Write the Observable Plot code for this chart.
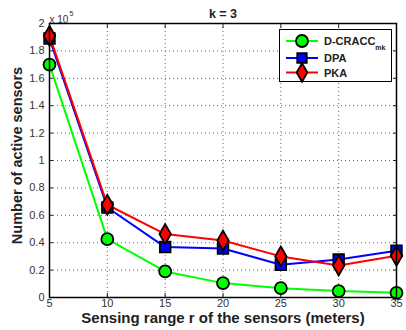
<!DOCTYPE html>
<html><head><meta charset="utf-8">
<script src="https://cdn.jsdelivr.net/npm/d3@7"></script>
<script src="https://cdn.jsdelivr.net/npm/@observablehq/plot@0.6"></script>
<style>
body{margin:0;background:#fff;font-family:"Liberation Sans",Arial,sans-serif;}
#wrap{position:relative;width:406px;height:330px;}
#legend{position:absolute;left:279px;top:29px;width:113px;height:53px;border:1.3px solid #000;background:#fff;box-sizing:border-box;}
#legend svg{overflow:visible;}
</style></head><body>
<div id="wrap"><div id="chart"></div><div id="legend"></div></div>
<script>
const ranges = [5, 10, 15, 20, 25, 30, 35];
const seriesNames = ["D-CRACC", "DPA", "PKA"];
const dcracc = [1.70, 0.426, 0.19, 0.105, 0.068, 0.047, 0.034];
const dpa = [1.89, 0.657, 0.368, 0.358, 0.239, 0.277, 0.341];
const pka = [1.91, 0.677, 0.463, 0.416, 0.30, 0.234, 0.304];
const colors = ["#00ff00", "#0000ff", "#ff0000"];
const symbols = ["circle", "square", "diamond"];
const xTicks = [5, 10, 15, 20, 25, 30, 35];
const yTicks = [0, 0.2, 0.4, 0.6, 0.8, 1, 1.2, 1.4, 1.6, 1.8, 2];

const values = [dcracc, dpa, pka];
const data = [];
values.forEach((vals, i) => vals.forEach((v, j) => data.push({series: seriesNames[i], x: ranges[j], y: v})));

const colorScale = {domain: seriesNames, range: colors};
const symbolScale = {domain: seriesNames, range: symbols};

const chart = Plot.plot({
  width: 406, height: 330,
  marginLeft: 49, marginRight: 10, marginTop: 23, marginBottom: 33,
  style: {fontFamily: "Liberation Sans, Arial, sans-serif", background: "#fff", color: "#222"},
  x: {domain: [5, 35], ticks: xTicks, label: null},
  y: {domain: [0, 2], ticks: yTicks, label: null},
  color: colorScale,
  symbol: symbolScale,
  marks: [
    Plot.gridX(xTicks, {stroke: "#555", strokeOpacity: 0.9, strokeDasharray: "1,3", strokeWidth: 1}),
    Plot.gridY(yTicks, {stroke: "#555", strokeOpacity: 0.9, strokeDasharray: "1,3", strokeWidth: 1}),
    Plot.axisX(xTicks, {tickSize: -4, tickPadding: 6, fontSize: 11, fill: "#333", tickFormat: d => d}),
    Plot.axisX(xTicks, {anchor: "top", tickSize: -4, tickFormat: () => "", label: null}),
    Plot.axisY(yTicks, {tickSize: -4, tickPadding: 9, fontSize: 11, fill: "#333", tickFormat: d => String(d)}),
    Plot.axisY(yTicks, {anchor: "right", tickSize: -4, tickFormat: () => "", label: null}),
    Plot.line(data, {x: "x", y: "y", z: "series", stroke: "series", strokeWidth: 2}),
    Plot.dot(data, {x: "x", y: "y", symbol: "series", fill: "series", stroke: "#000", strokeWidth: 1.8, r: 6}),
    Plot.frame({stroke: "#000", strokeWidth: 1.5}),
    Plot.text(["k = 3"], {frameAnchor: "top", dy: -14, fontWeight: "bold", fontSize: 12.5, fill: "#222"}),
    Plot.text(["Sensing range r of the sensors (meters)"], {frameAnchor: "bottom", dy: 25, fontWeight: "bold", fontSize: 15, fill: "#222"}),
    Plot.text(["Number of active sensors"], {frameAnchor: "left", dx: -32, dy: -5, rotate: -90, textAnchor: "middle", fontWeight: "bold", fontSize: 14.5, fill: "#222"}),
    Plot.text(["x 10"], {frameAnchor: "top-left", dy: -8, dx: 0, textAnchor: "start", fontSize: 10, fill: "#333"}),
    Plot.text(["5"], {frameAnchor: "top-left", dy: -12, dx: 20, textAnchor: "start", fontSize: 7, fill: "#333"})
  ]
});
document.getElementById("chart").appendChild(chart);

// legend
const leg = d3.select("#legend").append("svg").attr("width", 110).attr("height", 50)
  .style("font-family", "Liberation Sans, Arial, sans-serif");
const rowY = [11, 28, 42.5];
seriesNames.forEach((name, i) => {
  const g = leg.append("g").attr("transform", `translate(0,${rowY[i]})`);
  g.append("line").attr("x1", 6).attr("x2", 38).attr("stroke", colors[i]).attr("stroke-width", 2);
  g.append("path").attr("transform", "translate(22,0)")
    .attr("d", d3.symbol(i === 0 ? d3.symbolCircle : i === 1 ? d3.symbolSquare : d3.symbolDiamond, i === 0 ? 113 : i === 1 ? 90 : 100)())
    .attr("fill", colors[i]).attr("stroke", "#000").attr("stroke-width", 1.8);
  const t = g.append("text").attr("x", 44).attr("y", 4).attr("font-size", 11).attr("font-weight", "bold").attr("fill", "#222").text(name);
  if (i === 0) t.append("tspan").attr("dy", 5).attr("font-size", 7).text("mk");
});
</script>
</body></html>
